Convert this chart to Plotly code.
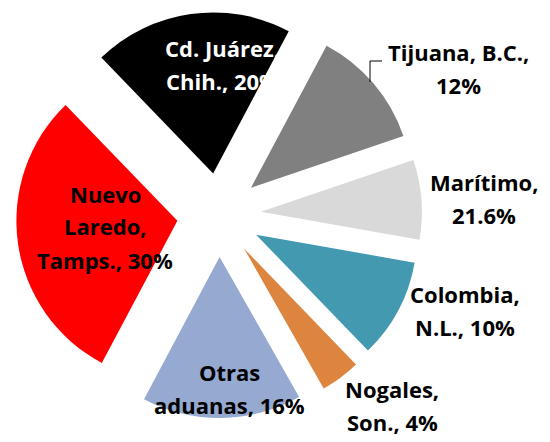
import plotly.graph_objects as go

# ---- data ----
aduanas = ["Cd. Juárez, Chih.", "Tijuana, B.C.", "Marítimo", "Colombia, N.L.",
           "Nogales, Son.", "Otras aduanas", "Nuevo Laredo, Tamps."]
slice_values = [20, 12, 8, 10, 4, 16, 30]
label_texts = ["Cd. Juárez,<br>Chih., 20%", "Tijuana, B.C.,<br>12%", "Marítimo,<br>21.6%",
               "Colombia,<br>N.L., 10%", "Nogales,<br>Son., 4%", "Otras<br>aduanas, 16%",
               "Nuevo<br>Laredo,<br>Tamps., 30%"]

# ---- style ----
colors = ["#000000", "#808080", "#D9D9D9", "#4399B0", "#DD843F", "#95A9D1", "#FF0000"]
text_colors = ["white", "black", "black", "black", "black", "black", "black"]
# label block centres in pixels (x, y of first line)
label_px = [(222, 48), (458, 51.5), (484, 181.5), (465, 293.5), (392, 388.5), (230, 371.5), (105, 193.5)]
LINE_GAP = 33
W, H = 550, 442
FONT = "Open Sans"
FSIZE = 22

fig = go.Figure(go.Pie(
    labels=aduanas, values=slice_values, sort=False, direction="clockwise",
    rotation=-44, pull=[0.261] * len(slice_values),
    marker=dict(colors=colors, line=dict(width=0)),
    textinfo="none", hoverinfo="label+percent", showlegend=False,
    domain=dict(x=[16 / W, 422 / W], y=[1 - 418 / H, 1 - 12 / H]),
))

annotations = []
for txt, (px, py), col in zip(label_texts, label_px, text_colors):
    for i, line in enumerate(txt.split("<br>")):
        annotations.append(dict(
            x=px / W, y=1 - (py + i * LINE_GAP) / H, xref="paper", yref="paper",
            text=line, showarrow=False, xanchor="center", yanchor="middle",
            font=dict(family=FONT, size=FSIZE, color=col, weight="bold"),
        ))

shapes = [
    dict(type="line", xref="paper", yref="paper", x0=370 / W, x1=370 / W,
         y0=1 - 82 / H, y1=1 - 61 / H, line=dict(color="black", width=1)),
    dict(type="line", xref="paper", yref="paper", x0=370 / W, x1=382 / W,
         y0=1 - 61 / H, y1=1 - 61 / H, line=dict(color="black", width=1)),
]

fig.update_layout(
    width=W, height=H, margin=dict(l=0, r=0, t=0, b=0),
    paper_bgcolor="white", plot_bgcolor="white",
    annotations=annotations, shapes=shapes,
)
fig.write_html("out.html", config={"displayModeBar": False},
               post_script="document.body.style.margin='0';")
